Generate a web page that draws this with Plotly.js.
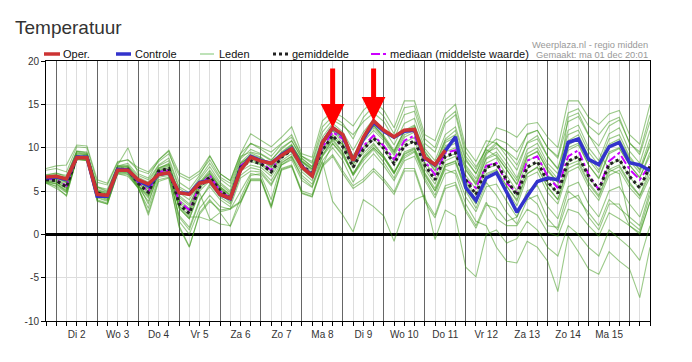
<!DOCTYPE html>
<html><head><meta charset="utf-8">
<script src="https://cdn.plot.ly/plotly-3.0.1.min.js"></script>
<style>html,body{margin:0;padding:0;background:#fff}#chart{width:692px;height:362px}</style>
</head><body><div id="chart"></div>
<script>
// ---- data (6-hourly steps, starting 1 Dec 18:00) ----
const dayLabels = ["Di 2","Wo 3","Do 4","Vr 5","Za 6","Zo 7","Ma 8","Di 9","Wo 10","Do 11","Vr 12","Za 13","Zo 14","Ma 15"];
const yTickVals = [-10,-5,0,5,10,15,20];
const yTickLabels = ["-10","-5","0","5","10","15","20"];

const oper = [6.6,6.7,6.4,8.85,8.85,4.6,4.5,7.4,7.4,6.3, 5.8,6.9,7.1,4.8,4.6,5.9,6.15,4.6,4.15,7.4, 8.9,8.45,8.2,9.1,9.85,7.75,6.75,10.6,12.3,11.5, 8.5,11.2,13.1,12.0,11.25,12.0,12.1,8.85,8.05,9.7];
const controle = [6.5,6.6,6.3,8.9,8.9,4.4,4.4,7.5,7.4,6.2, 5.6,6.9,7.1,4.8,4.7,6.0,6.2,4.6,4.1,7.5, 9.0,8.5,8.2,9.2,9.9,7.8,6.8,10.6,12.3,11.4, 8.5,11.0,12.9,11.9,11.2,11.9,12.0,8.8,8.0,9.7, 11.25,5.4,3.9,6.5,7.1,4.85,2.55,4.4,6.1,6.5, 6.3,10.6,11.0,8.65,8.05,10.1,10.6,8.25,8.0,7.35];
const gemiddelde = [6.3,6.2,5.45,8.9,8.9,4.8,4.4,7.5,7.5,5.9, 4.85,7.3,7.6,3.5,2.4,5.45,6.6,5.1,4.1,7.75, 8.5,8.15,7.2,8.9,9.7,7.95,7.0,9.7,11.4,10.1, 7.75,9.8,11.1,9.9,8.15,10.2,10.8,8.0,6.3,9.0, 9.4,6.3,4.6,7.7,8.15,6.3,4.5,7.75,8.4,6.05, 4.75,8.45,9.0,6.7,5.15,8.05,8.65,6.7,5.35,7.85];
const mediaan = [6.4,6.3,5.6,9.0,8.9,4.7,4.5,7.5,7.5,6.0, 4.95,7.2,7.4,3.8,2.8,5.6,6.8,5.0,4.2,7.9, 8.95,8.3,7.4,9.1,9.9,7.9,6.9,10.0,11.8,11.0, 8.5,10.2,11.4,10.2,8.65,10.8,11.4,8.45,6.9,9.4, 9.7,6.3,5.35,7.9,8.25,5.9,4.8,8.5,9.0,6.7, 5.35,9.0,9.7,6.9,5.15,8.45,9.4,7.5,6.3,8.05];

const lid01 = [7.4,7.6,7.2,10.1,10.0,6.0,5.7,8.3,8.6,7.4, 7.0,8.4,9.3,6.8,6.2,7.0,8.6,6.6,5.9,9.0, 9.5,9.2,8.5,10.0,10.8,8.8,7.8,10.8,12.5,11.5, 9.0,11.0,12.5,11.2,9.5,11.8,12.5,9.5,8.0,11.0, 12.0,8.5,7.0,10.0,12.3,11.9,11.2,12.7,12.9,11.2, 10.0,15.4,15.4,13.5,12.7,13.9,14.3,11.5,10.4,15.0];
const lid02 = [5.9,5.3,4.5,8.7,8.5,3.9,3.5,7.0,6.7,5.4, 2.2,6.1,6.5,1.0,-1.4,2.3,3.8,2.8,3.0,3.8, 6.4,6.4,3.3,7.6,8.0,5.0,4.6,8.0,9.2,7.3, 5.6,6.4,7.6,6.4,4.9,7.6,7.6,4.1,2.2,5.6, 6.0,2.9,1.0,3.7,1.8,1.0,1.0,2.9,2.2,0.2, -0.2,2.9,2.5,1.0,-0.2,2.5,1.8,1.0,0.2,3.7];
const lid03 = [6.0,5.8,5.0,8.8,8.8,4.5,4.0,7.2,7.2,5.6, 4.2,7.0,7.3,3.0,1.8,4.8,1.8,1.2,1.0,4.2, 6.8,7.0,5.6,8.0,8.6,6.2,5.4,8.4,3.8,2.2, 0.3,4.0,3.2,2.1,-0.8,2.8,4.0,4.5,-0.6,2.8, 2.1,-3.8,-4.9,0.0,0.5,-1.0,-0.5,1.5,0.5,-1.5, -2.5,1.0,0.0,-1.5,-2.5,0.5,-0.5,-1.5,-3.0,1.0];
const lid04 = [6.5,6.6,6.0,9.3,9.2,5.0,4.6,7.8,7.9,6.4, 5.5,7.6,8.2,4.5,3.5,5.9,7.2,5.5,4.6,8.2, 9.1,8.6,7.8,9.3,10.2,8.4,7.5,10.3,12.0,10.5, 8.2,9.4,10.5,9.0,7.2,9.0,9.6,6.8,5.0,7.5, 7.0,3.5,1.5,1.0,-1.5,-3.1,-3.3,-0.8,-1.5,-3.1, -6.6,-0.2,-2.0,-4.0,-4.6,-2.0,-3.1,-4.0,-7.3,-1.5];
const lid05 = [6.9,7.0,6.8,9.6,9.5,5.5,5.2,8.0,10.0,7.0, 6.5,8.6,9.6,6.0,5.2,6.8,9.0,7.0,6.2,9.3, 11.6,10.8,10.1,11.2,12.4,9.3,8.9,13.1,14.2,13.5, 12.5,14.3,15.4,14.3,12.3,15.4,15.4,11.5,10.8,13.9, 15.0,10.0,8.4,10.8,10.5,9.5,8.0,10.5,11.0,9.0, 7.5,11.5,12.0,9.5,8.0,11.0,11.5,9.0,7.5,11.0];
const lid06 = [6.5,6.5,5.9,9.1,9.0,5.0,4.6,7.6,7.7,6.2, 5.2,7.5,7.9,4.0,3.0,5.8,7.0,5.4,4.4,8.2, 9.0,8.6,7.7,9.3,10.1,8.4,7.5,10.3,12.0,10.9, 8.6,10.7,12.0,10.8,9.1,11.2,11.8,8.9,7.3,10.0, 10.5,7.4,5.7,8.7,9.2,7.5,5.7,8.9,9.6,7.3, 6.0,9.7,10.3,8.0,6.4,9.3,9.9,8.0,6.6,9.1];
const lid07 = [6.1,5.9,5.1,8.8,8.7,4.5,4.1,7.3,7.2,5.6, 4.4,7.1,7.3,3.0,1.8,5.0,6.2,4.7,3.7,7.3, 8.0,7.7,6.7,8.5,9.3,7.5,6.5,9.2,10.8,9.4, 7.0,9.0,10.3,9.0,7.2,9.3,9.9,7.1,5.3,8.0, 8.4,5.2,3.5,6.6,7.0,5.1,3.3,6.6,7.2,4.8, 3.5,7.2,7.8,5.4,3.9,6.8,7.4,5.4,4.1,6.6];
const lid08 = [6.2,6.0,5.3,8.9,8.8,4.2,3.8,7.4,7.4,5.8, 3.5,7.2,7.5,1.5,0.0,3.0,4.5,3.2,2.9,5.0, 7.0,6.8,4.0,8.2,9.0,6.5,5.5,9.0,11.0,10.4, 8.4,11.0,12.6,11.2,9.5,12.0,12.6,9.6,8.0,10.8, 11.5,8.0,6.4,9.4,10.0,8.4,6.5,9.8,10.5,8.2, 7.0,10.8,11.5,9.0,7.4,10.4,11.0,8.8,7.4,10.2];
const lid09 = [5.9,5.6,4.8,8.6,8.5,4.0,3.6,7.0,6.9,5.3, 3.0,6.6,6.8,2.2,0.8,4.0,5.5,4.0,3.2,6.5, 7.3,7.2,5.8,8.0,8.8,6.8,5.8,8.5,10.0,8.5, 6.0,8.0,9.3,7.9,6.2,8.5,9.0,6.2,4.2,7.0, 7.4,4.3,2.6,5.5,5.8,3.8,2.0,5.0,5.6,3.2, 1.8,5.5,6.0,3.5,2.0,5.0,5.5,3.5,2.0,5.5];
const lid10 = [6.8,7.1,6.6,9.5,9.3,5.4,4.9,7.9,8.0,6.6, 6.0,7.9,8.5,5.3,4.5,6.3,7.8,6.0,5.0,8.7, 9.8,9.3,8.6,9.8,10.8,8.7,7.8,11.2,12.8,11.8, 9.7,11.8,13.3,12.1,10.3,12.8,13.4,9.9,8.5,11.5, 12.4,8.7,7.0,9.5,10.6,9.0,7.4,10.6,11.4,9.0, 7.6,12.0,12.6,10.0,8.5,11.6,12.3,9.6,8.2,12.0];
const lid11 = [6.3,6.3,5.6,9.0,8.9,4.8,4.3,7.5,7.6,6.0, 4.9,7.3,7.7,3.6,2.5,5.5,6.7,5.2,4.1,7.8, 8.6,8.1,7.3,8.9,9.8,8.0,7.1,9.8,11.5,10.3, 8.0,10.0,11.3,10.2,8.4,10.6,11.2,8.3,6.8,9.5, 10.0,6.8,5.2,8.2,8.8,6.8,5.0,8.5,9.0,6.8, 5.5,13.5,14.0,11.5,9.5,7.5,7.0,1.5,0.5,4.5];
const lid12 = [6.4,6.4,5.7,9.0,9.0,4.9,4.5,7.6,7.5,6.0, 5.0,7.4,7.7,3.8,2.8,5.5,6.8,5.3,4.2,7.9, 8.7,8.2,7.4,9.0,9.6,7.8,6.8,9.5,11.0,9.5, 6.8,8.5,9.8,8.3,6.5,8.8,9.5,6.5,4.5,7.8, 8.2,5.0,3.0,6.0,4.5,2.5,1.2,4.0,4.5,1.8, 0.5,4.0,4.5,2.0,0.5,3.5,3.5,1.0,0.0,3.8];
const lid13 = [6.6,6.8,6.2,9.4,9.2,5.2,4.8,7.7,7.8,6.3, 5.6,7.7,8.1,4.8,4.0,6.0,7.4,5.8,4.8,8.3, 9.4,8.9,8.0,9.5,10.4,8.3,7.3,10.6,12.4,11.2, 9.0,11.2,12.6,11.4,9.7,11.9,12.3,9.3,7.7,10.6, 11.2,7.8,6.0,9.2,10.4,9.6,8.6,11.6,12.0,10.0, 8.8,13.0,13.6,11.4,10.2,12.5,13.2,10.6,9.2,13.0];
const lid14 = [6.0,5.5,4.4,8.7,8.6,3.8,3.5,7.1,7.0,5.4, 2.5,6.3,6.6,0.8,-1.5,2.5,4.0,2.6,2.9,3.7, 6.3,6.3,3.2,7.5,7.9,4.8,4.4,7.9,10.5,9.0, 7.0,8.8,10.0,8.8,7.0,9.5,10.0,7.5,5.8,8.5, 9.0,6.0,4.0,7.0,7.5,5.5,4.0,7.0,7.8,5.5, 4.0,8.0,8.5,6.0,4.5,7.5,8.0,6.0,4.5,7.5];
const lid15 = [7.6,7.9,8.0,10.3,10.2,6.3,5.9,8.4,8.6,7.7, 7.2,8.6,9.7,7.1,6.5,7.3,9.1,7.0,6.2,9.3, 10.5,10.0,9.5,10.5,11.2,9.0,8.2,11.8,13.2,12.5, 11.5,13.0,14.0,13.0,11.0,13.8,14.2,10.5,9.5,12.8, 13.8,9.0,7.5,10.0,11.0,10.5,9.5,11.5,12.0,10.0, 9.0,14.0,14.5,12.5,11.5,13.0,13.5,10.5,9.5,13.8];
const lid16 = [6.2,6.1,5.3,8.8,8.7,4.6,4.2,7.3,7.3,5.7, 4.5,7.0,7.2,3.2,2.0,2.0,1.6,2.5,0.9,3.5, 6.2,6.2,3.0,7.4,7.8,4.7,4.3,7.8,9.0,7.0, 5.3,6.1,7.3,6.1,4.6,7.3,7.3,3.8,1.9,5.3, 5.7,2.6,0.7,3.4,3.0,1.5,2.0,4.5,3.5,1.0, 0.8,5.0,4.0,2.5,1.0,4.0,3.0,2.0,1.0,5.0];
const lid17 = [6.7,6.9,6.5,9.6,9.4,5.5,5.0,7.9,8.2,6.8, 6.3,8.0,8.8,5.5,4.8,6.5,8.2,6.4,5.5,8.8, 10.5,9.8,9.0,10.4,11.5,9.0,8.4,12.4,13.6,12.8, 11.0,13.5,14.8,13.6,11.6,14.6,14.8,11.0,10.0,13.2, 14.2,9.5,7.8,9.8,9.0,7.5,5.8,9.0,9.5,7.5, 6.0,10.0,10.5,8.0,6.5,9.5,10.0,8.0,6.5,9.5];
const lid18 = [6.4,6.2,5.5,8.9,8.9,4.7,4.3,7.5,7.4,5.9, 4.7,7.3,7.5,3.3,2.2,5.3,6.5,5.0,4.0,7.6, 8.4,8.0,7.0,8.8,9.6,7.9,6.9,9.6,11.3,10.0, 7.6,9.7,11.0,9.8,8.0,10.1,10.7,7.9,6.2,8.9, 9.3,6.2,4.5,7.6,8.0,6.2,4.4,7.6,8.3,6.0, 4.7,8.4,8.9,6.6,5.1,8.0,8.6,6.6,5.3,7.8];
const lid19 = [6.1,5.8,4.9,8.7,8.6,4.3,3.9,7.2,7.1,5.5, 3.8,6.8,7.0,2.0,0.5,3.8,5.8,4.3,3.5,6.8, 7.7,7.4,6.2,8.3,9.0,7.2,6.2,9.0,10.5,9.2, 6.8,8.8,10.0,8.8,7.0,9.2,9.8,7.0,5.0,8.0, 8.5,5.4,3.6,6.8,7.4,5.6,3.8,7.0,7.7,5.4, 4.0,7.6,8.2,5.8,4.3,7.2,7.8,5.8,4.4,7.0];
const lid20 = [6.6,6.6,6.0,9.2,9.1,5.1,4.7,7.8,7.8,6.2, 5.3,7.6,8.0,4.3,3.3,5.9,7.0,5.5,4.5,8.0, 9.2,8.8,7.9,9.4,10.3,8.5,7.6,10.5,12.2,11.0, 8.8,11.0,12.3,11.0,9.3,11.5,12.0,9.0,7.4,10.2, 10.8,7.5,5.8,8.8,9.5,7.8,6.2,9.3,10.0,7.8, 6.4,10.3,11.0,8.6,7.1,10.2,10.8,8.5,7.1,10.5];

const arrowSteps = [28, 32];

// ---- layout geometry / styling ----
const W = 692, H = 362, ML = 46, MR = 42, MT = 61, MB = 41;
const PW = W - ML - MR, PH = H - MT - MB;
const YMIN = -10, YMAX = 20;
const FONT = "Liberation Sans, Arial, sans-serif";
const fx = px => (px - ML) / PW;
const fy = py => (H - MB - py) / PH;

const leden = [lid01,lid02,lid03,lid04,lid05,lid06,lid07,lid08,lid09,lid10,lid11,lid12,lid13,lid14,lid15,lid16,lid17,lid18,lid19,lid20];
const steps = gemiddelde.map((_, i) => i);
const stepsPerDay = 4, firstMidnight = 1;
const midnights = steps.filter(i => (i - firstMidnight) % stepsPerDay === 0);
const otherSteps = steps.filter(i => (i - firstMidnight) % stepsPerDay !== 0);
const otherText = otherSteps.map(i => {
  const k = (i - firstMidnight - 2) / stepsPerDay;
  return (Number.isInteger(k) && k >= 0 && k < dayLabels.length) ? dayLabels[k] : "";
});

const traces = [];
leden.forEach(v => traces.push({
  x: steps, y: v, type: 'scatter', mode: 'lines',
  line: {color: 'rgba(55,150,20,0.5)', width: 1.1}, hoverinfo: 'skip', showlegend: false
}));
traces.push({x: steps, y: mediaan, type: 'scatter', mode: 'lines', showlegend: false,
  line: {color: '#cc00ff', width: 2, dash: 'dashdot'}});
traces.push({x: steps, y: gemiddelde, type: 'scatter', mode: 'lines', showlegend: false,
  line: {color: '#222222', width: 3, dash: 'dot'}});
traces.push({x: steps, y: controle, type: 'scatter', mode: 'lines', showlegend: false,
  line: {color: '#3333cc', width: 3.5}});
traces.push({x: steps.slice(0, oper.length), y: oper, xaxis: 'x2', type: 'scatter', mode: 'lines', showlegend: false,
  line: {color: '#cc3333', width: 3.5}});

const legendItems = [
  {text: 'Oper.', color: '#cc3333', width: 3.5, dash: 'solid', s0: 44, s1: 60, t: 63},
  {text: 'Controle', color: '#3333cc', width: 3.5, dash: 'solid', s0: 116, s1: 131, t: 135},
  {text: 'Leden', color: '#a8d8a0', width: 1.5, dash: 'solid', s0: 200, s1: 214, t: 218.5},
  {text: 'gemiddelde', color: '#222222', width: 3, dash: 'dot', s0: 273, s1: 288, t: 292},
  {text: 'mediaan (middelste waarde)', color: '#cc00ff', width: 2, dash: 'dashdot', s0: 371, s1: 387, t: 390}
];
const LEG_Y = 54;
const shapes = legendItems.map(it => ({
  type: 'line', xref: 'paper', yref: 'paper',
  x0: fx(it.s0), x1: fx(it.s1), y0: fy(LEG_Y), y1: fy(LEG_Y),
  line: {color: it.color, width: it.width, dash: it.dash}
}));
const annotations = legendItems.map(it => ({
  xref: 'paper', yref: 'paper', x: fx(it.t - 2), y: fy(LEG_Y), xanchor: 'left', yanchor: 'middle',
  text: it.text, showarrow: false, font: {family: FONT, size: 11, color: '#111'}
}));
annotations.push({xref: 'paper', yref: 'paper', x: 1, y: fy(45), xanchor: 'right', yanchor: 'middle',
  text: 'Weerplaza.nl - regio midden', showarrow: false, font: {family: FONT, size: 9.3, color: '#999'}});
annotations.push({xref: 'paper', yref: 'paper', x: 1, y: fy(55), xanchor: 'right', yanchor: 'middle',
  text: 'Gemaakt: ma 01 dec 20:01', showarrow: false, font: {family: FONT, size: 9.3, color: '#999'}});
const ARROW_TOP = 67;
arrowSteps.forEach(s => {
  const tipPx = MT + (YMAX - oper[s]) / (YMAX - YMIN) * PH;
  annotations.push({x: s, y: oper[s], xref: 'x', yref: 'y', text: '', showarrow: true,
    ax: 0, ay: -(tipPx - ARROW_TOP), arrowcolor: '#ff0000', arrowwidth: 5, arrowhead: 2,
    arrowsize: 0.95, standoff: 0});
});

const layout = {
  width: W, height: H,
  margin: {l: ML, r: MR, t: MT, b: MB, pad: 0},
  paper_bgcolor: '#fff', plot_bgcolor: '#fff',
  showlegend: false,
  title: {text: 'Temperatuur', xref: 'container', yref: 'container', x: 15 / W, xanchor: 'left',
    y: 1 - 27 / H, yanchor: 'middle', font: {family: FONT, size: 19, color: '#333'}},
  xaxis: {range: [0, steps.length - 1], tickmode: 'array', tickvals: otherSteps, ticktext: otherText,
    ticks: 'outside', ticklen: 4, tickcolor: '#000', tickwidth: 1,
    showgrid: true, gridcolor: '#dddddd', gridwidth: 1, zeroline: false,
    showline: true, linecolor: '#000', linewidth: 1, mirror: true,
    tickfont: {family: FONT, size: 10, color: '#333'}, fixedrange: true},
  xaxis2: {range: [0, steps.length - 1], overlaying: 'x', side: 'bottom', tickmode: 'array',
    tickvals: midnights, ticktext: midnights.map(() => ''), showticklabels: false,
    ticks: 'outside', ticklen: 4, tickcolor: '#000', tickwidth: 1,
    showgrid: true, gridcolor: '#666666', gridwidth: 1, zeroline: false, showline: false},
  yaxis: {range: [YMIN, YMAX], tickmode: 'array', tickvals: yTickVals, ticktext: yTickLabels,
    ticks: 'outside', ticklen: 4, tickcolor: '#000',
    showgrid: true, gridcolor: '#dddddd', zeroline: true, zerolinecolor: '#000', zerolinewidth: 2.5,
    showline: true, linecolor: '#000', linewidth: 1, mirror: true,
    tickfont: {family: FONT, size: 10, color: '#333'}},
  shapes: shapes,
  annotations: annotations
};

Plotly.newPlot('chart', traces, layout, {displayModeBar: false, staticPlot: true});
</script>
</body></html>
